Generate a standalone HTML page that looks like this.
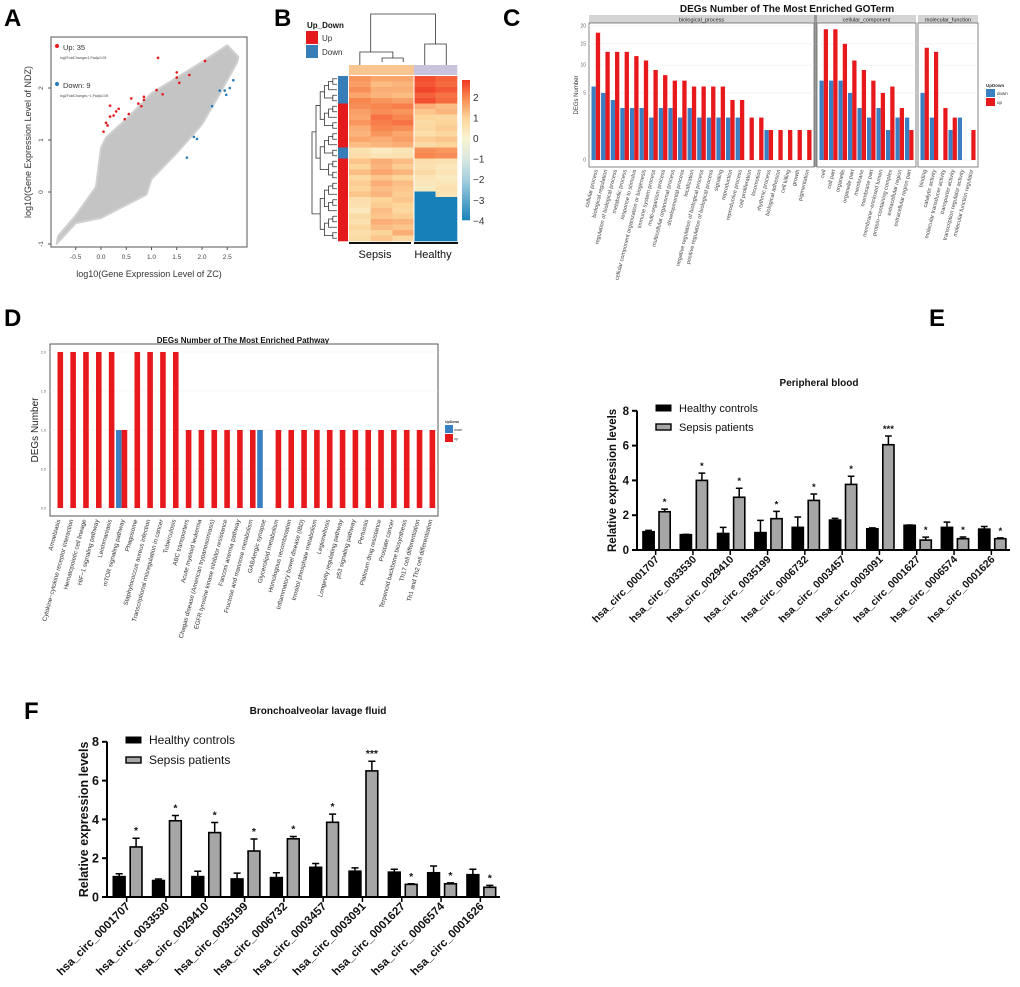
<!DOCTYPE html>
<html><head><meta charset="utf-8">
<style>
html,body{margin:0;padding:0;background:#fff;}
svg{display:block;font-family:"Liberation Sans",Arial,sans-serif;}
</style></head>
<body>
<svg id="fig" width="1020" height="987" viewBox="0 0 1020 987" xmlns="http://www.w3.org/2000/svg">
<g font-weight="bold" font-size="24" fill="#000">
<text x="4" y="26">A</text>
<text x="274" y="26">B</text>
<text x="503" y="26">C</text>
<text x="4" y="326">D</text>
<text x="929" y="326">E</text>
<text x="24" y="719">F</text>
</g>
</svg>
<script>
const NS='http://www.w3.org/2000/svg';
const svg=document.getElementById('fig');
function mk(tag,attrs,parent){const e=document.createElementNS(NS,tag);for(const k in attrs)e.setAttribute(k,attrs[k]);(parent||svg).appendChild(e);return e;}
function tx(x,y,s,attrs,parent){const e=mk('text',Object.assign({x:x,y:y},attrs||{}),parent);e.textContent=s;return e;}

/* ================= PANEL A data ================= */
const aCloudX=[-0.85,-0.5,-0.1,0.0,0.1,0.5,1.0,1.5,2.0,2.5,2.72,2.7,2.3,2.0,1.5,1.0,0.9,0.5,0.0,-0.5,-0.88];
const aCloudY=[-0.85,-0.45,0.1,0.85,1.05,1.4,1.9,2.2,2.5,2.82,2.6,2.5,1.8,1.3,0.75,0.25,-0.05,-0.25,-0.5,-0.6,-1.0];
const aUpX=[1.13,1.5,1.75,2.06,1.1,1.22,1.5,1.55,0.85,0.6,0.74,0.8,0.18,0.18,0.3,0.35,0.55,0.25,0.1,0.13,0.05,0.47,0.85];
const aUpY=[2.58,2.3,2.25,2.52,1.96,1.88,2.2,2.1,1.83,1.8,1.7,1.65,1.66,1.45,1.55,1.6,1.5,1.47,1.33,1.28,1.16,1.4,1.77];
const aDownX=[2.62,2.55,2.45,2.48,2.2,1.84,1.9,1.7,2.35];
const aDownY=[2.15,2.0,1.95,1.87,1.65,1.06,1.02,0.66,1.95];
const aXTicks=[-0.5,0.0,0.5,1.0,1.5,2.0,2.5];
const aYTicks=[-1,0,1,2];
/* ================= PANEL B data ================= */
const bRowGroup=['Down','Down','Down','Down','Down','Up','Up','Up','Up','Up','Up','Up','Up','Down','Down','Up','Up','Up','Up','Up','Up','Up','Up','Up','Up','Up','Up','Up','Up','Up'];
const bValues=[
[1.8,1.6,1.6,2.6,2.4],[1.7,1.3,1.4,2.5,2.3],[1.9,1.5,1.5,2.7,2.5],[1.6,1.4,1.3,2.4,2.2],[2.0,1.8,1.7,2.6,2.3],
[1.9,2.0,2.1,1.5,1.3],[1.7,1.9,1.8,1.2,1.4],[1.6,2.2,2.0,1.0,0.9],[1.8,2.1,2.2,0.8,1.0],[1.5,2.0,1.9,0.9,1.1],[1.4,1.8,1.6,0.7,0.9],[1.6,1.5,1.7,1.1,1.2],[1.3,1.4,1.5,0.8,1.0],
[0.6,0.3,0.5,1.9,1.8],[0.7,0.5,0.6,2.0,1.9],
[1.2,1.5,1.3,0.7,0.6],[1.0,1.4,1.1,0.6,0.4],[1.3,1.6,1.4,0.8,0.5],[0.9,1.2,1.0,0.5,0.3],[1.1,1.5,1.3,0.4,0.5],[1.0,1.3,1.2,0.3,0.6],[1.2,1.4,1.1,-4,0.5],
[0.7,1.0,1.2,-4,-4],[0.6,1.1,1.0,-4,-4],[0.4,1.3,0.9,-4,-4],[0.8,1.2,1.1,-4,-4],[0.6,1.5,1.4,-4,-4],[0.9,1.3,1.2,-4,-4],[0.7,1.0,1.5,-4,-4],[0.8,1.2,0.9,-4,-4]];
const bColGroup=['Sepsis','Sepsis','Sepsis','Healthy','Healthy'];
const bScaleTicks=[2,1,0,-1,-2,-3,-4];
/* ================= PANEL C data ================= */
const cBpCats=['cellular process','biological regulation','regulation of biological process','metabolic process','response to stimulus','cellular component organization or biogenesis','immune system process','multi-organism process','multicellular organismal process','developmental process','localization','negative regulation of biological process','positive regulation of biological process','signaling','reproduction','reproductive process','cell proliferation','locomotion','rhythmic process','biological adhesion','cell killing','growth','pigmentation'];
const cBpDown=[6,5,4,3,3,3,2,3,3,2,3,2,2,2,2,2,0,0,1,0,0,0,0];
const cBpUp=[18,13,13,13,12,11,9,8,7,7,6,6,6,6,4,4,2,2,1,1,1,1,1];
const cCcCats=['cell','cell part','organelle','organelle part','membrane','membrane part','membrane\u2212enclosed lumen','protein\u2212containing complex','extracellular region','extracellular region part'];
const cCcDown=[7,7,7,5,3,2,3,1,2,2];
const cCcUp=[19,19,15,11,9,7,5,6,3,1];
const cMfCats=['binding','catalytic activity','molecular transducer activity','transporter activity','transcription regulator activity','molecular function regulator'];
const cMfDown=[5,2,0,1,2,0];
const cMfUp=[14,13,3,2,0,1];
const cYTicks=[0,5,10,15,20];
/* ================= PANEL D data ================= */
const dCats=['Amoebiasis','Cytokine\u2212cytokine receptor interaction','Hematopoietic cell lineage','HIF\u22121 signaling pathway','Leishmaniasis','mTOR signaling pathway','Phagosome','Staphylococcus aureus infection','Transcriptional misregulation in cancer','Tuberculosis','ABC transporters','Acute myeloid leukemia','Chagas disease (American trypanosomiasis)','EGFR tyrosine kinase inhibitor resistance','Fanconi anemia pathway','Fructose and mannose metabolism','GABAergic synapse','Glycerolipid metabolism','Homologous recombination','Inflammatory bowel disease (IBD)','Inositol phosphate metabolism','Legionellosis','Longevity regulating pathway','p53 signaling pathway','Pertussis','Platinum drug resistance','Prostate cancer','Terpenoid backbone biosynthesis','Th17 cell differentiation','Th1 and Th2 cell differentiation'];
const dDown=[0,0,0,0,0,1,0,0,0,0,0,0,0,0,0,0,1,0,0,0,0,0,0,0,0,0,0,0,0,0];
const dUp=[2,2,2,2,2,1,2,2,2,2,1,1,1,1,1,1,0,1,1,1,1,1,1,1,1,1,1,1,1,1];
const dYTicks=[0.0,0.5,1.0,1.5,2.0];
/* ================= PANELS E/F data ================= */
const circNames=['hsa_circ_0001707','hsa_circ_0033530','hsa_circ_0029410','hsa_circ_0035199','hsa_circ_0006732','hsa_circ_0003457','hsa_circ_0003091','hsa_circ_0001627','hsa_circ_0006574','hsa_circ_0001626'];
const eHealthy=[1.05,0.88,0.95,1.0,1.3,1.72,1.22,1.42,1.3,1.2];
const eHealthyErr=[0.08,0.02,0.35,0.7,0.6,0.1,0.05,0.02,0.3,0.15];
const eSepsis=[2.2,4.0,3.03,1.8,2.85,3.77,6.05,0.57,0.65,0.65];
const eSepsisErr=[0.15,0.42,0.52,0.42,0.37,0.47,0.5,0.17,0.1,0.05];
const eStars=['*','*','*','*','*','*','***','*','*','*'];
const fHealthy=[1.05,0.85,1.05,0.93,1.0,1.53,1.33,1.28,1.25,1.15];
const fHealthyErr=[0.15,0.08,0.28,0.3,0.25,0.2,0.17,0.15,0.35,0.28];
const fSepsis=[2.58,3.93,3.32,2.37,3.0,3.85,6.5,0.65,0.68,0.5];
const fSepsisErr=[0.45,0.27,0.52,0.62,0.12,0.42,0.5,0.03,0.05,0.1];
const fStars=['*','*','*','*','*','*','***','*','*','*'];
const efYTicks=[0,2,4,6,8];

/* ================= PANEL A ================= */
(function(){
const g=mk('g',{});


const sx=v=>101+v*50.5, sy=v=>192-v*52;
const box=mk('rect',{x:51,y:37,width:196,height:210,fill:'#fff',stroke:'#555','stroke-width':1},g);


const pts=aCloudX.map((x,i)=>sx(x)+','+sy(aCloudY[i])).join(' ');
const cloud=mk('polygon',{points:pts,fill:'#c4c4c4',stroke:'#d0d0d0','stroke-width':2,'stroke-linejoin':'round'},g);


aUpX.forEach((x,i)=>{const c=mk('circle',{cx:sx(x),cy:sy(aUpY[i]),r:1.3,fill:'#e41a1c'},g);

});
aDownX.forEach((x,i)=>{const c=mk('circle',{cx:sx(x),cy:sy(aDownY[i]),r:1.3,fill:'#2b7bba'},g);

});
aXTicks.forEach(v=>{const l=mk('line',{x1:sx(v),x2:sx(v),y1:247,y2:250,stroke:'#555'},g);


const t=tx(sx(v),259,v.toFixed(1),{'font-size':6.5,'text-anchor':'middle',fill:'#444'},g);

});
aYTicks.forEach(v=>{const l=mk('line',{x1:48,x2:51,y1:sy(v),y2:sy(v),stroke:'#555'},g);


const t=tx(0,0,String(v),{'font-size':6.5,'text-anchor':'middle',fill:'#444',transform:`translate(43,${sy(v)}) rotate(-90)`},g);

});
const xt=tx(149,277,'log10(Gene Expression Level of ZC)',{'font-size':9,'text-anchor':'middle',fill:'#333'},g);


const yt=tx(0,0,'log10(Gene Expression Level of NDZ)',{'font-size':9,'text-anchor':'middle',fill:'#333',transform:'translate(31,142) rotate(-90)'},g);


const d1=mk('circle',{cx:57,cy:46,r:2,fill:'#e41a1c'},g);


const l1=tx(63,50,'Up: 35',{'font-size':7.5,fill:'#333'},g);


const s1=tx(60,59,'log2FoldChange\u22651,Padj\u22640.05',{'font-size':3.5,fill:'#444'},g);


const d2=mk('circle',{cx:57,cy:84,r:2,fill:'#2b7bba'},g);


const l2=tx(63,88,'Down: 9',{'font-size':7.5,fill:'#333'},g);


const s2=tx(60,97,'log2FoldChange\u2264\u22121,Padj\u22640.05',{'font-size':3.5,fill:'#444'},g);


})();

/* ================= PANEL B ================= */
(function(){
const g=mk('g',{});


const stops=[[-4,[23,128,184]],[-2,[165,207,224]],[-1,[216,232,224]],[0,[249,243,210]],[1,[252,213,154]],[2,[248,134,79]],[2.8,[242,59,39]]];
function col(v){if(v<=stops[0][0])return 'rgb('+stops[0][1]+')';for(let i=1;i<stops.length;i++){if(v<=stops[i][0]){const a=stops[i-1],b=stops[i],t=(v-a[0])/(b[0]-a[0]);return 'rgb('+a[1].map((c,k)=>Math.round(c+(b[1][k]-c)*t)).join(',')+')';}}return 'rgb('+stops[stops.length-1][1]+')';}
const x0=349,cw=[21.7,21.7,21.6,21.5,21.5],y0=76,rh=165/bValues.length;
const cx=[x0];for(let i=0;i<cw.length;i++)cx.push(cx[i]+cw[i]);
bValues.forEach((row,r)=>row.forEach((v,c)=>{const e=mk('rect',{x:cx[c],y:y0+r*rh,width:cw[c]+0.3,height:rh+0.3,fill:col(v)},g);

}));
mk('line',{x1:cx[3],x2:cx[3],y1:y0,y2:241,stroke:'#fff','stroke-width':1},g);
bColGroup.forEach((gname,c)=>{const e=mk('rect',{x:cx[c],y:65,width:cw[c]+0.3,height:10,fill:gname==='Sepsis'?'#f9c591':'#c9c3de'},g);

});
bRowGroup.forEach((gr,r)=>{const e=mk('rect',{x:338,y:y0+r*rh,width:10,height:rh+0.3,fill:gr==='Up'?'#e41a1c':'#377eb8'},g);

});
for(let i=0;i<70;i++){const v=2.8-i*6.8/70;const e=mk('rect',{x:462,y:80+i*(140/70),width:8,height:140/70+0.3,fill:col(v)},g);

}
bScaleTicks.forEach(v=>{const t=tx(473,138-v*20.6+4,String(v).replace('-','\u2212'),{'font-size':10,fill:'#333'},g);

});
const dg=mk('g',{stroke:'#333','stroke-width':0.8,fill:'none'},g);


const cc=c=>cx[c]+cw[c]/2;
mk('path',{d:`M${cc(1)+0.5} 62 V58 H${cc(2)} V62 M${cc(0)} 65 V52 H${(cc(1)+cc(2))/2+0.5} V58 M${cc(3)} 65 V44 H${cc(4)} V65 M${(cc(0)+cc(1))/2} 52 V14 H${(cc(3)+cc(4))/2} V44`},dg);
const rg=mk('g',{stroke:'#333','stroke-width':0.8,fill:'none'},g);


function tree(lo,hi){if(lo===hi)return {y:y0+lo*rh+rh/2,x:337,h:0};const m=Math.floor((lo+hi)/2);const a=tree(lo,m),b=tree(m+1,hi);const h=Math.max(a.h,b.h)+1;const x=337-h*4.2;mk('path',{d:`M${a.x} ${a.y} H${x} V${b.y} H${b.x}`},rg);return {y:(a.y+b.y)/2,x:x,h:h};}
const A=tree(0,18),B=tree(19,29);
mk('path',{d:`M${A.x} ${A.y} H312 V${B.y} H${B.x}`},rg);
const lt=tx(307,28,'Up_Down',{'font-size':8,'font-weight':'bold',fill:'#111'},g);


const r1=mk('rect',{x:306,y:31,width:12,height:13,fill:'#e41a1c'},g);


const t1=tx(322,41,'Up',{'font-size':8,fill:'#333'},g);


const r2=mk('rect',{x:306,y:45,width:12,height:13,fill:'#377eb8'},g);


const t2=tx(322,55,'Down',{'font-size':8,fill:'#333'},g);


const b1=mk('rect',{x:349,y:242,width:62,height:2,fill:'#111'},g);


const b2=mk('rect',{x:414,y:242,width:44,height:2,fill:'#111'},g);


const g1=tx(375,258,'Sepsis',{'font-size':11,'text-anchor':'middle',fill:'#111'},g);


const g2=tx(433,258,'Healthy',{'font-size':11,'text-anchor':'middle',fill:'#111'},g);


})();

/* ================= PANEL C ================= */
(function(){
const g=mk('g',{});


const sy=v=>160-Math.sqrt(v)*30;
const facets=[{name:'biological_process',x0:589,x1:814,cats:cBpCats,down:cBpDown,up:cBpUp},
{name:'cellular_component',x0:817,x1:916,cats:cCcCats,down:cCcDown,up:cCcUp},
{name:'molecular_function',x0:918,x1:978,cats:cMfCats,down:cMfDown,up:cMfUp}];
const title=tx(787,12,'DEGs Number of The Most Enriched GOTerm',{'font-size':10,'font-weight':'bold','text-anchor':'middle',fill:'#111'},g);


const bg=mk('rect',{x:814,y:15,width:3,height:152,fill:'#999'},g);


facets.forEach(f=>{
const strip=mk('rect',{x:f.x0,y:15,width:f.x1-f.x0,height:8,fill:'#d4d4d4'},g);


const st=tx((f.x0+f.x1)/2,21.5,f.name,{'font-size':5.5,'text-anchor':'middle',fill:'#222'},g);


const fr=mk('rect',{x:f.x0,y:23,width:f.x1-f.x0,height:144,fill:'#fff',stroke:'#666','stroke-width':0.8},g);


cYTicks.forEach(v=>{const gl=mk('line',{x1:f.x0,x2:f.x1,y1:sy(v),y2:sy(v),stroke:'#eee','stroke-width':0.6},g);

});
const n=f.cats.length,step=(f.x1-f.x0-4)/n,bw=step*0.45;
f.cats.forEach((c,i)=>{const cxm=f.x0+2+step*(i+0.5);
if(f.down[i]>0){const b=mk('rect',{x:cxm-bw,y:sy(f.down[i]),width:bw,height:160-sy(f.down[i]),fill:'#3a7fc1'},g);

}
if(f.up[i]>0){const b=mk('rect',{x:cxm,y:sy(f.up[i]),width:bw,height:160-sy(f.up[i]),fill:'#e8191c'},g);

}
const t=tx(0,0,c,{'font-size':5.6,'text-anchor':'end',fill:'#444',transform:`translate(${cxm+2},170) rotate(-76)`},g);

});
});
cYTicks.forEach(v=>{const t=tx(586,sy(v)+1.5,String(v),{'font-size':5,'text-anchor':'end',fill:'#666'},g);

});
const yt=tx(0,0,'DEGs Number',{'font-size':6,'text-anchor':'middle',fill:'#333',transform:'translate(578,95) rotate(-90)'},g);


const lt=tx(986,87,'UpDown',{'font-size':4.5,'font-weight':'bold',fill:'#333'},g);


const r1=mk('rect',{x:986,y:89,width:9,height:8,fill:'#3a7fc1'},g);


const t1=tx(997,95,'down',{'font-size':4.5,fill:'#333'},g);


const r2=mk('rect',{x:986,y:98,width:9,height:8,fill:'#e8191c'},g);


const t2=tx(997,104,'up',{'font-size':4.5,fill:'#333'},g);


})();

/* ================= PANEL D ================= */
(function(){
const g=mk('g',{});


const sy=v=>508-v*78;
const x0=50,x1=438;
const title=tx(243,343,'DEGs Number of The Most Enriched Pathway',{'font-size':8,'font-weight':'bold','text-anchor':'middle',fill:'#111'},g);


const fr=mk('rect',{x:x0,y:344,width:x1-x0,height:172,fill:'#fff',stroke:'#555','stroke-width':1},g);


dYTicks.forEach(v=>{const gl=mk('line',{x1:x0,x2:x1,y1:sy(v),y2:sy(v),stroke:'#f0f0f0','stroke-width':0.6},g);


const t=tx(46,sy(v)+1.5,v.toFixed(1),{'font-size':3.8,'text-anchor':'end',fill:'#666'},g);

});
const step=12.83,first=57.5,bw=5.6;
dCats.forEach((c,i)=>{const cxm=first+i*step;
if(dDown[i]>0){const b=mk('rect',{x:cxm-bw,y:sy(dDown[i]),width:bw,height:508-sy(dDown[i]),fill:'#3a7fc1'},g);

}
if(dUp[i]>0){const b=mk('rect',{x:cxm,y:sy(dUp[i]),width:bw,height:508-sy(dUp[i]),fill:'#e8191c'},g);

}
const t=tx(0,0,c,{'font-size':6.2,'text-anchor':'end',fill:'#333',transform:`translate(${cxm+3},520) rotate(-75)`},g);

});
const yt=tx(0,0,'DEGs Number',{'font-size':10,'text-anchor':'middle',fill:'#222',transform:'translate(38,430) rotate(-90)'},g);


const lt=tx(445,423,'UpDown',{'font-size':3.5,'font-weight':'bold',fill:'#333'},g);


const r1=mk('rect',{x:445,y:425,width:8,height:8,fill:'#3a7fc1'},g);


const t1=tx(454,431,'down',{'font-size':3.5,fill:'#333'},g);


const r2=mk('rect',{x:445,y:434,width:8,height:8,fill:'#e8191c'},g);


const t2=tx(454,440,'up',{'font-size':3.5,fill:'#333'},g);


})();

/* ================= PANELS E / F ================= */
function qpcr(cfg){
const g=mk('g',{});


const sy=v=>cfg.y0-v*cfg.k;
const gw=(cfg.xEnd-cfg.xAxis)/cfg.cats.length;
const title=tx(cfg.titleX,cfg.titleY,cfg.title,{'font-size':cfg.tfs,'font-weight':'bold','text-anchor':'middle',fill:'#111'},g);


cfg.cats.forEach((c,i)=>{const gx=cfg.xAxis+i*gw;
const hx=gx+gw*0.16,sx=gx+gw*0.59,bw=gw*0.3;
[[hx,cfg.h[i],cfg.he[i],'#000','healthy'],[sx,cfg.s[i],cfg.se[i],'#a6a6a6','sepsis']].forEach(([x,v,e,fill,nm])=>{
const eb=mk('path',{d:`M${x+bw/2} ${sy(v)} V${sy(v+e)} M${x+bw/2-bw*0.3} ${sy(v+e)} H${x+bw/2+bw*0.3}`,stroke:'#000','stroke-width':1.5,fill:'none'},g);


const b=mk('rect',{x:x,y:sy(v),width:bw,height:cfg.y0-sy(v),fill:fill,stroke:'#000','stroke-width':1.6},g);

});
const st=tx(sx+bw/2,sy(cfg.s[i]+cfg.se[i])-4,cfg.stars[i],{'font-size':cfg.fs-1,'font-weight':'bold','text-anchor':'middle',fill:'#111'},g);


const cxm=gx+gw/2;
const tk=mk('line',{x1:cxm,x2:cxm,y1:cfg.y0,y2:cfg.y0+5,stroke:'#000','stroke-width':1.5},g);


const t=tx(0,0,c,{'font-size':cfg.fs,'font-weight':'bold','text-anchor':'end',fill:'#111',transform:`translate(${cxm+4},${cfg.y0+10}) rotate(-45)`},g);

});
const ax=mk('path',{d:`M${cfg.xAxis} ${sy(8)} V${cfg.y0} H${cfg.xEnd}`,stroke:'#000','stroke-width':2,fill:'none'},g);


efYTicks.forEach(v=>{const l=mk('line',{x1:cfg.xAxis-5,x2:cfg.xAxis,y1:sy(v),y2:sy(v),stroke:'#000','stroke-width':2},g);


const t=tx(cfg.xAxis-8,sy(v)+cfg.fs*0.38,String(v),{'font-size':cfg.fs+1,'font-weight':'bold','text-anchor':'end',fill:'#111'},g);

});
const yt=tx(0,0,'Relative expression levels',{'font-size':cfg.fs+1,'font-weight':'bold','text-anchor':'middle',fill:'#111',transform:`translate(${cfg.ylx},${(sy(8)+cfg.y0)/2}) rotate(-90)`},g);


const r1=mk('rect',{x:cfg.lx,y:cfg.ly,width:cfg.lw,height:cfg.lh,fill:'#000',stroke:'#000'},g);


const t1=tx(cfg.lx+cfg.lw+8,cfg.ly+cfg.lh+1,'Healthy controls',{'font-size':cfg.fs+0.5,fill:'#111'},g);


const r2=mk('rect',{x:cfg.lx,y:cfg.ly+cfg.lgap,width:cfg.lw,height:cfg.lh,fill:'#a6a6a6',stroke:'#000','stroke-width':1.4},g);


const t2=tx(cfg.lx+cfg.lw+8,cfg.ly+cfg.lgap+cfg.lh+1,'Sepsis patients',{'font-size':cfg.fs+0.5,fill:'#111'},g);


}
qpcr({name:'peripheral-blood-panel-e',title:'Peripheral blood',titleX:819,titleY:386,tfs:10,cats:circNames,h:eHealthy,he:eHealthyErr,s:eSepsis,se:eSepsisErr,stars:eStars,
y0:550,k:17.4,xAxis:637,xEnd:1010,fs:10.5,ylx:616,lx:656,ly:405,lw:15,lh:6,lgap:19});
qpcr({name:'bronchoalveolar-lavage-panel-f',title:'Bronchoalveolar lavage fluid',titleX:318,titleY:714,tfs:10,cats:circNames,h:fHealthy,he:fHealthyErr,s:fSepsis,se:fSepsisErr,stars:fStars,
y0:897,k:19.4,xAxis:107,xEnd:500,fs:11.5,ylx:88,lx:126,ly:737,lw:15,lh:6,lgap:20});
</script>
</body></html>
